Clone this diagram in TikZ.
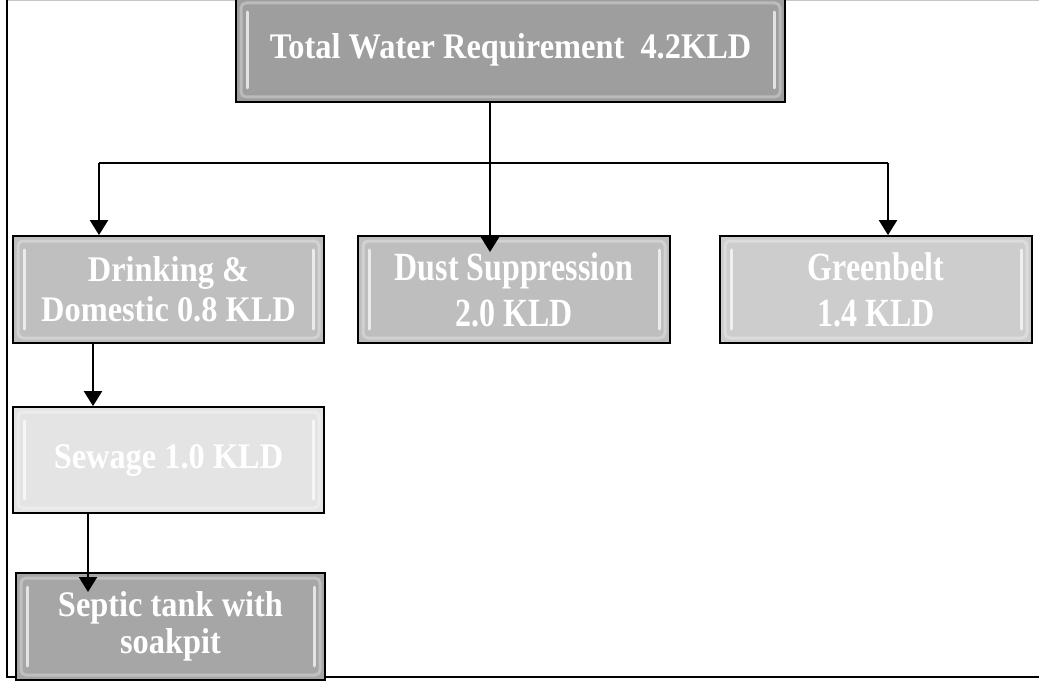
\documentclass[tikz,border=0pt]{standalone}
\usepackage{fontspec}
\setmainfont{Liberation Serif}
\newfontfamily\boxfont[FakeStretch=0.9]{Liberation Serif}
\newfontfamily\condfont[FakeStretch=0.8]{Liberation Serif}
\usetikzlibrary{arrows.meta,calc}
\definecolor{ctop}{HTML}{9E9E9E}
\definecolor{cdrink}{HTML}{BFBFBF}
\definecolor{cdust}{HTML}{BEBEBE}
\definecolor{cgreen}{HTML}{CDCDCD}
\definecolor{csew}{HTML}{E4E4E4}
\definecolor{csep}{HTML}{A6A6A6}
\tikzset{
  box/.style={draw=black, line width=1.8pt, text=white, align=center, inner sep=0pt,
    font=\fontsize{36}{40}\boxfont\bfseries,
    path picture={
      \draw[white, opacity=0.3, line width=3pt, rounded corners=5pt]
        ([shift={(5pt,-5pt)}]path picture bounding box.north west) rectangle
        ([shift={(-5pt,5pt)}]path picture bounding box.south east);
      \draw[white, opacity=0.7, line width=3pt, line cap=round]
        ([shift={(11pt,-14pt)}]path picture bounding box.north west) --
        ([shift={(11pt,14pt)}]path picture bounding box.south west);
      \draw[white, opacity=0.7, line width=3pt, line cap=round]
        ([shift={(-11pt,-14pt)}]path picture bounding box.north east) --
        ([shift={(-11pt,14pt)}]path picture bounding box.south east);
    }},
  condtext/.style={font=\fontsize{40}{46}\condfont\bfseries},
  conn/.style={line width=2.3pt, draw=black},
  arr/.style={conn, -{Triangle[width=18pt,length=15pt]}},
}
\begin{document}
\begin{tikzpicture}[x=1pt,y=-1pt]
\useasboundingbox (0,0) rectangle (1039,682);
% outer frame
\draw[gray!45, line width=1.5pt] (7,0.7) -- (1039,0.7);
\draw[black, line width=2.2pt] (7,0) -- (7,677) -- (1039,677);
% boxes
\node[box, fill=ctop, minimum width=549pt, minimum height=104pt] (top) at (510.5,50) {Total Water Requirement~~4.2KLD};
\node[box, fill=cdrink, minimum width=311pt, minimum height=107pt] (drink) at (168.5,289.5) {Drinking \&\\Domestic 0.8 KLD};
\node[box, fill=cdust, minimum width=312pt, minimum height=107pt, condtext] (dust) at (514,289.5) {Dust Suppression\\2.0 KLD};
\node[box, fill=cgreen, minimum width=312pt, minimum height=107pt, condtext] (green) at (876,289.5) {Greenbelt\\1.4 KLD};
\node[box, fill=csew, minimum width=311pt, minimum height=106pt] (sew) at (168.5,460) {Sewage 1.0 KLD};
\node[box, fill=csep, minimum width=309pt, minimum height=107pt, font=\fontsize{36}{37}\boxfont\bfseries] (sep) at (170.5,626.5) {Septic tank with\\soakpit};
% connectors
\coordinate (j) at (490,163);
\coordinate (jl) at (99,163);
\coordinate (jr) at (888,163);
\coordinate (dustin) at (490,252);
\coordinate (sepin) at (88,592);
\draw[line width=1.6pt] (top.south -| j) -- (j);
\draw[conn] (jl) -- (jr);
\draw[arr] (jl) -- (drink.north -| jl);
\draw[arr] (j) -- (dustin);
\draw[arr] (jr) -- (green.north -| jr);
\draw[arr] (drink.south -| 93,0) -- (sew.north -| 93,0);
\draw[arr] (sew.south -| sepin) -- (sepin);
\end{tikzpicture}
\end{document}
